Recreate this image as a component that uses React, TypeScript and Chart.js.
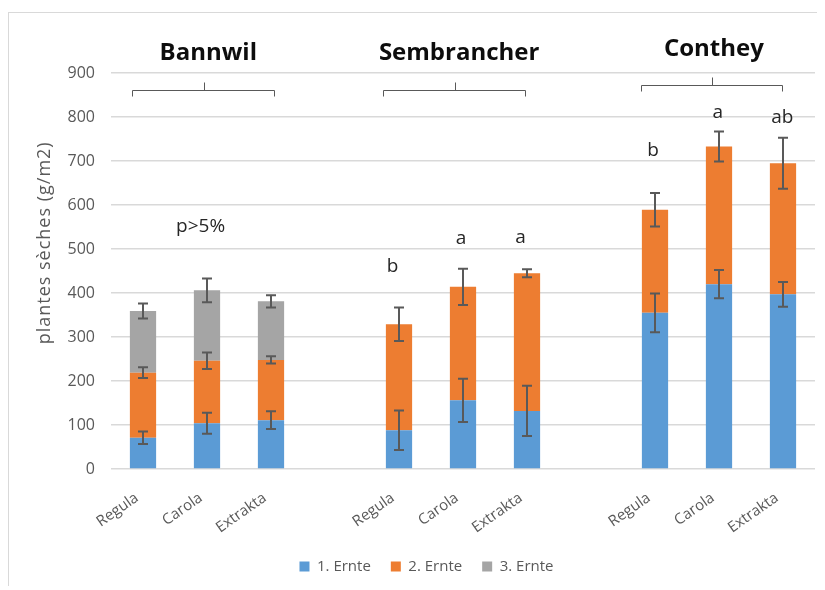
import React, { useEffect, useRef } from "react";
import { Chart, registerables } from "chart.js";
Chart.register(...registerables);

const categories = ["Regula", "Carola", "Extrakta", "", "Regula", "Carola", "Extrakta", "", "Regula", "Carola", "Extrakta"];
const seriesNames = ["1. Ernte", "2. Ernte", "3. Ernte"];
const ernte1 = [71, 104, 111, null, 88, 156, 132, null, 355, 420, 397];
const ernte2 = [148, 142, 137, null, 241, 258, 313, null, 234, 313, 298];
const ernte3 = [140, 160, 133, null, null, null, null, null, null, null, null];
const err1 = [14, 24, 20, null, 45, 49, 57, null, 44, 32, 28];
const err2 = [12, 19, 8, null, 38, 41, 9, null, 38, 34, 58];
const err3 = [17, 27, 14, null, null, null, null, null, null, null, null];
const yMin = 0;
const yMax = 900;
const yStep = 100;
const yTitle = "plantes sèches (g/m2)";
const groupNames = ["Bannwil", "Sembrancher", "Conthey"];
const letters = ["p>5%", "b", "a", "a", "b", "a", "ab"];
const letterValues = [552, 461, 523, 527, 723, 809, 798];

// annotation layout (positions in data space)
const groupTitleAt = [
  { x: 1.02, y: 945 },
  { x: 4.94, y: 945 },
  { x: 8.92, y: 954 },
];
const bracketAt = [
  { x0: -0.17, x1: 2.05, y: 861 },
  { x0: 3.75, x1: 5.97, y: 862 },
  { x0: 7.78, x1: 9.98, y: 873 },
];
const letterX = [0.9, 3.9, 4.97, 5.9, 7.97, 8.98, 9.99];
const yTitleCenter = 514;

const COLORS = ["#5B9BD5", "#ED7D31", "#A5A5A5"];
const FONT = "'Open Sans', sans-serif";

const errorBarsPlugin = {
  id: "errorBars",
  afterDatasetsDraw(chart: any) {
    const ctx = chart.ctx;
    const y = chart.scales.y;
    const values = [ernte1, ernte2, ernte3];
    const errs = [err1, err2, err3];
    ctx.save();
    ctx.strokeStyle = "#595959";
    ctx.lineWidth = 2;
    for (let d = 0; d < values.length; d++) {
      const meta = chart.getDatasetMeta(d);
      meta.data.forEach((el: any, i: number) => {
        const v = values[d][i];
        const e = errs[d][i];
        if (v == null || e == null) return;
        let top = 0;
        for (let k = 0; k <= d; k++) top += (values[k][i] as number) || 0;
        const x = el.x;
        const yHi = y.getPixelForValue(top + e);
        const yLo = y.getPixelForValue(top - e);
        ctx.beginPath();
        ctx.moveTo(x, yHi);
        ctx.lineTo(x, yLo);
        ctx.moveTo(x - 5, yHi);
        ctx.lineTo(x + 5, yHi);
        ctx.moveTo(x - 5, yLo);
        ctx.lineTo(x + 5, yLo);
        ctx.stroke();
      });
    }
    ctx.restore();
  },
};

const annotationsPlugin = {
  id: "annots",
  afterDraw(chart: any) {
    const ctx = chart.ctx;
    const xs = chart.scales.x;
    const ys = chart.scales.y;
    ctx.save();
    // group titles
    ctx.fillStyle = "#0d0d0d";
    ctx.font = `bold 24px ${FONT}`;
    ctx.textAlign = "center";
    ctx.textBaseline = "middle";
    groupNames.forEach((n, i) => {
      ctx.fillText(n, xs.getPixelForValue(groupTitleAt[i].x), ys.getPixelForValue(groupTitleAt[i].y));
    });
    // brackets
    ctx.strokeStyle = "#595959";
    ctx.lineWidth = 1;
    bracketAt.forEach((b) => {
      const x0 = Math.round(xs.getPixelForValue(b.x0)) + 0.5;
      const x1 = Math.round(xs.getPixelForValue(b.x1)) + 0.5;
      const yy = Math.round(ys.getPixelForValue(b.y)) + 0.5;
      const xm = Math.round((x0 + x1) / 2) + 0.5;
      ctx.beginPath();
      ctx.moveTo(x0, yy + 6);
      ctx.lineTo(x0, yy);
      ctx.lineTo(x1, yy);
      ctx.lineTo(x1, yy + 6);
      ctx.moveTo(xm, yy);
      ctx.lineTo(xm, yy - 8);
      ctx.stroke();
    });
    // letters
    ctx.fillStyle = "#262626";
    ctx.font = `19px ${FONT}`;
    letters.forEach((l, i) => {
      ctx.fillText(l, xs.getPixelForValue(letterX[i]), ys.getPixelForValue(letterValues[i]));
    });
    // y title
    ctx.fillStyle = "#595959";
    ctx.font = `18px ${FONT}`;
    (ctx as any).letterSpacing = "1px";
    ctx.translate(37, ys.getPixelForValue(yTitleCenter));
    ctx.rotate(-Math.PI / 2);
    ctx.fillText(yTitle, 0, 0);
    ctx.restore();
  },
};

export default function App() {
  const ref = useRef<HTMLCanvasElement | null>(null);
  useEffect(() => {
    if (!ref.current) return;
    const data = [ernte1, ernte2, ernte3];
    const chart = new Chart(ref.current, {
      type: "bar",
      data: {
        labels: categories,
        datasets: seriesNames.map((n, i) => ({
          label: n,
          data: data[i],
          backgroundColor: COLORS[i],
          borderWidth: 0,
          barPercentage: 0.41,
          categoryPercentage: 1,
        })),
      },
      options: {
        animation: false,
        responsive: false,
        devicePixelRatio: 1,
        layout: { padding: { left: 30, right: 10, top: 65, bottom: 2 } },
        plugins: {
          legend: {
            position: "bottom",
            labels: {
              boxWidth: 10,
              boxHeight: 10,
              padding: 20,
              color: "#595959",
              font: { size: 15, family: FONT },
            },
          },
          tooltip: { enabled: false },
        },
        scales: {
          x: {
            stacked: true,
            grid: { display: false },
            border: { display: false },
            ticks: {
              minRotation: 35,
              maxRotation: 35,
              autoSkip: false,
              padding: 12,
              labelOffset: -6,
              color: "#595959",
              font: { size: 15, family: FONT },
            },
            afterFit: (s: any) => {
              s.height = 70;
            },
          },
          y: {
            stacked: true,
            min: yMin,
            max: yMax,
            ticks: {
              stepSize: yStep,
              padding: 16,
              color: "#595959",
              font: { size: 16, family: FONT },
            },
            grid: { color: "#d9d9d9", lineWidth: 1.5, drawTicks: false },
            border: { display: false },
            afterFit: (s: any) => {
              s.width = 73;
            },
          },
        },
      },
      plugins: [errorBarsPlugin, annotationsPlugin],
    });
    return () => chart.destroy();
  }, []);
  return (
    <div style={{ position: "relative", width: 817, height: 578 }}>
      <div
        style={{
          position: "absolute",
          left: 0,
          top: 4,
          width: 817,
          height: 574,
          borderTop: "1px solid #d9d9d9",
          borderLeft: "1px solid #d9d9d9",
          boxSizing: "border-box",
        }}
      />
      <canvas ref={ref} width={817} height={578} style={{ position: "absolute", left: 0, top: 0 }} />
    </div>
  );
}
